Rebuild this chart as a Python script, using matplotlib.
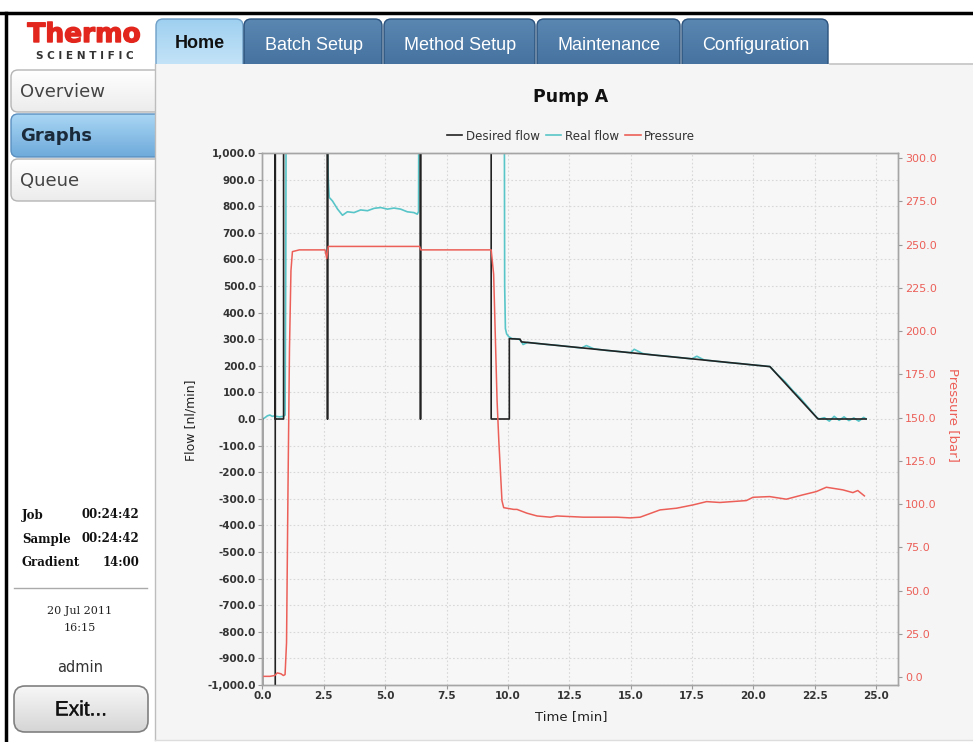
import matplotlib
matplotlib.use('Agg')
import matplotlib.pyplot as plt
import matplotlib.patheffects as pe
import numpy as np
from matplotlib.patches import FancyBboxPatch, Rectangle
from matplotlib.colors import LinearSegmentedColormap
from matplotlib.ticker import FuncFormatter, MultipleLocator
from matplotlib.lines import Line2D

# Desired flow [nl/min] (values beyond +-1000 run off the plot)
t_desired = [0, 0, 0.52, 0.52, 0.52, 0.86, 0.86, 2.65, 2.65, 2.65, 6.44, 6.44, 6.44,
             9.32, 9.32, 10.06, 10.06, 10.5, 10.55, 20.68, 22.64, 24.6]
desired_flow = [0, -1500, -1500, 1500, 0, 0, 1500, 1500, 0, 1500, 1500, 0, 1500,
                1500, 0, 0, 302, 300, 290, 197, 0, 0]

# Real flow [nl/min]
t_real = [0, 0.1, 0.2, 0.3, 0.4, 0.5, 0.55, 0.7, 0.85, 0.92, 0.95, 0.97,
          2.55, 2.6, 2.68, 2.72, 2.85, 3.06, 3.26, 3.46, 3.73, 4.0, 4.28, 4.55, 4.82,
          5.09, 5.36, 5.63, 5.9, 6.17, 6.31, 6.36, 6.38,
          9.85, 9.87, 9.9, 9.95, 10.03, 10.17, 10.3, 10.45, 10.55, 10.62, 10.8, 11.2,
          11.6, 12.0, 12.5, 13.0, 13.2, 13.5, 14.0, 14.5, 15.0, 15.15, 15.5, 16.0,
          16.5, 17.0, 17.5, 17.7, 18.0, 18.5, 19.0, 19.5, 20.0, 20.4, 20.68, 21.0,
          21.3, 21.6, 21.9, 22.2, 22.4, 22.6, 22.7, 22.9, 23.1, 23.3, 23.5, 23.7,
          23.9, 24.1, 24.3, 24.5, 24.6]
real_flow = [0, 5, 12, 15, 10, 12, 10, 8, 10, 15, 600, 1500,
             1500, 1200, 900, 833, 820, 789, 766, 779, 776, 786, 783, 792, 795,
             789, 793, 789, 779, 776, 770, 780, 1500,
             1500, 500, 340, 320, 310, 302, 302, 300, 292, 280, 288, 284,
             280, 277, 272, 267, 276, 264, 258, 254, 249, 262, 246, 240,
             236, 231, 226, 236, 222, 217, 212, 208, 203, 200, 197, 166,
             140, 108, 80, 48, 26, 5, 0, 5, -8, 10, -5, 8,
             -6, 4, -8, 6, 0]

# Pressure [bar]
t_pressure = [0, 0.3, 0.5, 0.6, 0.75, 0.85, 0.92, 0.98, 1.04, 1.1, 1.16, 1.22, 1.5,
              2.55, 2.62, 2.68, 4.0, 6.40, 6.45, 9.32, 9.42, 9.56, 9.63, 9.76, 9.83,
              10.24, 10.37, 10.78, 11.19, 11.73, 12.0, 13.08, 14.44, 14.98, 15.39,
              16.2, 16.88, 17.55, 18.1, 18.64, 19.72, 19.99, 20.67, 21.35, 22.02,
              22.57, 22.98, 23.65, 24.06, 24.26, 24.53]
pressure = [0.5, 0.5, 1, 2.5, 2, 1, 1.5, 20, 110, 190, 235, 246, 247,
            247, 242, 249, 249, 249, 247, 247, 233, 160, 137, 102, 98,
            97, 97, 94.8, 93.2, 92.5, 93.2, 92.5, 92.5, 92.1, 92.5,
            96.7, 97.7, 99.6, 101.5, 101, 102.1, 104, 104.4, 102.9, 105.4,
            107.3, 109.8, 108.3, 106.7, 107.9, 104.8]

tabs = ['Home', 'Batch Setup', 'Method Setup', 'Maintenance', 'Configuration']
tab_edges = [156, 244, 384, 537, 682, 830]
side_buttons = ['Overview', 'Graphs', 'Queue']
side_tops = [70, 114, 159]
timers = [('Job', '00:24:42'), ('Sample', '00:24:42'), ('Gradient', '14:00')]

C_DESIRED = '#222222'
C_REAL = '#58c5c8'
C_PRESS = '#ec5f58'
PAGE = '#f5f5f5'

fig = plt.figure(figsize=(9.73, 7.42), dpi=100)
fig.patch.set_facecolor('white')

# page frame in pixel coordinates
bg = fig.add_axes([0, 0, 1, 1])
bg.axis('off')
bg.autoscale(False)
bg.set_xlim(0, 973)
bg.set_ylim(742, 0)


def grad_box(x, y, w, h, c_top, c_bot, ec, r=6, lw=1.0, z=1):
    patch = FancyBboxPatch((x, y), w, h, boxstyle=f'round,pad=0,rounding_size={r}',
                           fc='none', ec=ec, lw=lw, zorder=z + 0.1)
    bg.add_patch(patch)
    cmap = LinearSegmentedColormap.from_list('g', [c_top, c_bot])
    im = bg.imshow(np.linspace(0, 1, 64).reshape(-1, 1), cmap=cmap, aspect='auto',
                   extent=(x, x + w, y + h, y), origin='upper', zorder=z)
    im.set_clip_path(patch)


# tabs
for i, name in enumerate(tabs):
    x0, x1 = tab_edges[i], tab_edges[i + 1]
    if i == 0:
        grad_box(x0, 19, x1 - x0 - 1, 60, '#9fd0f0', '#cfe9fa', '#6f9fc8', r=7)
        bg.text((x0 + x1) / 2, 44, name, ha='center', va='center', fontsize=13,
                family='Liberation Sans', weight='bold', color='#111111', zorder=3)
    else:
        grad_box(x0, 19, x1 - x0 - 2, 60, '#5a86b2', '#3f6c99', '#2b527c', r=7)
        bg.text((x0 + x1) / 2, 45, name, ha='center', va='center', fontsize=13,
                family='Liberation Sans', color='white', zorder=3)

# side buttons
for name, top in zip(side_buttons, side_tops):
    if name == 'Graphs':
        grad_box(11, top, 160, 43, '#a9d6f4', '#6eaadb', '#5a8fbf', r=7)
        bg.text(20, top + 22, name, va='center', fontsize=13, weight='bold',
                color='#1a2a3a', zorder=3)
    else:
        grad_box(11, top, 160, 42, '#ffffff', '#ececec', '#b5b5b5', r=7)
        bg.text(20, top + 22, name, va='center', fontsize=13, color='#444444', zorder=3)

# content area
bg.add_patch(Rectangle((155, 64), 818, 676, fc=PAGE, ec='none', zorder=2))
bg.plot([155, 155], [64, 740], color='#bdbdbd', lw=1, zorder=2.5)
bg.plot([830, 973], [64, 64], color='#c4c4c4', lw=1.2, zorder=2.5)
bg.plot([155, 973], [740, 740], color='#dddddd', lw=1, zorder=2.5)

# outer frame
bg.plot([0, 973], [13, 13], color='black', lw=2.5, zorder=5)
bg.plot([6, 6], [13, 742], color='black', lw=2.5, zorder=5)

# logo
bg.text(84, 35, 'Thermo', ha='center', va='center', fontsize=19, weight='bold',
        color='#e2261d', zorder=3,
        path_effects=[pe.withStroke(linewidth=1.0, foreground='#e2261d')])
bg.text(85, 56, 'S C I E N T I F I C', ha='center', va='center', fontsize=7.6,
        weight='bold', color='#333333', zorder=3)

# timers
for k, (lab, val) in enumerate(timers):
    y = 515 + k * 24
    bg.text(22, y, lab, va='center', fontsize=8.5, weight='bold', family='DejaVu Serif',
            color='#111111', zorder=3)
    bg.text(139, y, val, va='center', ha='right', fontsize=8.5, weight='bold',
            family='DejaVu Serif', color='#111111', zorder=3)
bg.plot([14, 147], [588, 588], color='#aaaaaa', lw=1, zorder=3)
bg.text(80, 611, '20 Jul 2011', ha='center', va='center', fontsize=8,
        family='DejaVu Serif', color='#222222', zorder=3)
bg.text(80, 628, '16:15', ha='center', va='center', fontsize=8,
        family='DejaVu Serif', color='#222222', zorder=3)
bg.text(80, 667, 'admin', ha='center', va='center', fontsize=10.5, color='#333333', zorder=3)
grad_box(14, 686, 134, 46, '#f7f7f7', '#d5d5d5', '#808080', r=11, lw=1.2)
bg.text(81, 710, 'Exit...', ha='center', va='center', fontsize=15,
        family='Liberation Sans', color='#111111', zorder=3,
        path_effects=[pe.withStroke(linewidth=0.25, foreground='#111111')])

# chart
ax = fig.add_axes([262 / 973, 57 / 742, 636 / 973, 532 / 742])
ax.set_facecolor('#f7f7f7')
ax2 = ax.twinx()

ax.plot(t_real, real_flow, color=C_REAL, lw=1.2, zorder=2)
ax.plot(t_desired, desired_flow, color=C_DESIRED, lw=1.2, zorder=3)
ax2.plot(t_pressure, pressure, color=C_PRESS, lw=1.1)

ax.set_xlim(-0.02, 25.9)
ax.set_ylim(-1000, 1000)
ax2.set_ylim(-4.5, 303)

ax.xaxis.set_major_locator(MultipleLocator(2.5))
ax.yaxis.set_major_locator(MultipleLocator(100))
ax2.yaxis.set_major_locator(MultipleLocator(25))
ax.xaxis.set_major_formatter(FuncFormatter(lambda v, p: f'{v:.1f}'))
ax.yaxis.set_major_formatter(FuncFormatter(lambda v, p: f'{v:,.1f}'))
ax2.yaxis.set_major_formatter(FuncFormatter(lambda v, p: f'{v:.1f}'))

ax.set_axisbelow(True)
ax.grid(True, color='#d8d8d8', linestyle=(0, (1.5, 2)), lw=0.8)
for a in (ax, ax2):
    for s in a.spines.values():
        s.set_color('#a5a5a5')
        s.set_linewidth(1)
ax.tick_params(direction='out', length=3, width=0.8, color='#999999', labelsize=7.5,
               labelcolor='#333333', pad=1.5)
ax2.tick_params(direction='out', length=3, width=0.8, color='#999999', labelsize=8,
                labelcolor=C_PRESS, pad=2)
plt.setp(ax.get_xticklabels() + ax.get_yticklabels(), fontweight='bold')

bg.text(571, 97, 'Pump A', ha='center', va='center', fontsize=12.5, weight='semibold',
        color='#111111', zorder=3)
bg.text(191, 420, 'Flow [nl/min]', rotation=90, ha='center', va='center', fontsize=9,
        color='#222222', zorder=3)
bg.text(571, 717, 'Time [min]', ha='center', va='center', fontsize=9.5,
        color='#222222', zorder=3)
bg.text(953, 415, 'Pressure [bar]', rotation=270, ha='center', va='center', fontsize=9.5,
        color=C_PRESS, zorder=3)

handles = [Line2D([], [], color=C_DESIRED, lw=1.2),
           Line2D([], [], color=C_REAL, lw=1.2),
           Line2D([], [], color=C_PRESS, lw=1.2)]
fig.legend(handles, ['Desired flow', 'Real flow', 'Pressure'], loc='center',
           bbox_to_anchor=(571 / 973, 1 - 136 / 742), ncol=3, frameon=False,
           fontsize=8.6, handlelength=1.3, handletextpad=0.3, columnspacing=0.5,
           labelcolor='#333333')

fig.savefig('out.png', dpi=100)
